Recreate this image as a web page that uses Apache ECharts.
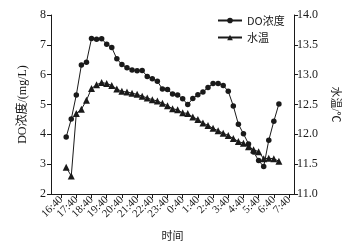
<!DOCTYPE html>
<html><head><meta charset="utf-8">
<script src="https://cdn.jsdelivr.net/npm/echarts@6/dist/echarts.min.js"></script>
<style>html,body{margin:0;padding:0;background:#fff}#c{width:348px;height:246px}</style>
</head><body><div id="c"></div>
<script>
const categories = ['16:00','16:20','16:40','17:00','17:20','17:40','18:00','18:20','18:40','19:00','19:20','19:40','20:00','20:20','20:40','21:00','21:20','21:40','22:00','22:20','22:40','23:00','23:20','23:40','0:00','0:20','0:40','1:00','1:20','1:40','2:00','2:20','2:40','3:00','3:20','3:40','4:00','4:20','4:40','5:00','5:20','5:40','6:00','6:20','6:40','7:00','7:20','7:40','8:00'];
const sampleTimes = ['17:00','17:20','17:40','18:00','18:20','18:40','19:00','19:20','19:40','20:00','20:20','20:40','21:00','21:20','21:40','22:00','22:20','22:40','23:00','23:20','23:40','0:00','0:20','0:40','1:00','1:20','1:40','2:00','2:20','2:40','3:00','3:20','3:40','4:00','4:20','4:40','5:00','5:20','5:40','6:00','6:20','6:40','7:00'];
const doValues = [3.91,4.51,5.32,6.32,6.42,7.21,7.19,7.20,7.02,6.91,6.53,6.34,6.23,6.16,6.13,6.14,5.94,5.86,5.78,5.52,5.50,5.35,5.32,5.19,5.00,5.20,5.33,5.42,5.57,5.70,5.70,5.64,5.44,4.95,4.34,4.02,3.68,3.41,3.12,2.92,3.80,4.44,5.02];
const tempValues = [11.45,11.30,12.35,12.42,12.57,12.77,12.83,12.87,12.85,12.82,12.76,12.72,12.71,12.69,12.67,12.64,12.61,12.58,12.56,12.52,12.48,12.43,12.41,12.36,12.35,12.29,12.25,12.19,12.15,12.10,12.06,12.02,11.98,11.93,11.88,11.85,11.79,11.74,11.71,11.59,11.60,11.59,11.55];
const tickLabels = ['16:40','17:40','18:40','19:40','20:40','21:40','22:40','23:40','0:40','1:40','2:40','3:40','4:40','5:40','6:40','7:40'];

const serif = "'Liberation Serif','Times New Roman','Noto Sans CJK SC',serif";
const cjk = "'Noto Sans CJK SC',sans-serif";
const ink = '#1a1a1a';
const chart = echarts.init(document.getElementById('c'));
const showTick = (i, v) => tickLabels.indexOf(categories[i]) >= 0;
chart.setOption({
  animation: false,
  backgroundColor: '#fff',
  grid: {left: 51, right: 52, top: 15, bottom: 51, containLabel: false},
  legend: {
    orient: 'vertical', left: 212, top: 10, itemGap: 6, itemWidth: 24, itemHeight: 7,
    textStyle: {fontFamily: cjk, fontSize: 11, color: ink},
    data: ['DO浓度', '水温']
  },
  xAxis: {
    type: 'category', data: categories, boundaryGap: false,
    name: '时间', nameLocation: 'middle', nameGap: 36,
    nameTextStyle: {fontFamily: cjk, fontSize: 11, color: ink},
    axisLine: {lineStyle: {color: ink, width: 1}},
    axisTick: {interval: showTick, inside: false, length: 4, lineStyle: {color: ink}},
    axisLabel: {interval: 0, rotate: 45, fontFamily: serif, fontSize: 11, color: ink, margin: 4,
      formatter: v => (tickLabels.indexOf(v) >= 0 ? v : ''), hideOverlap: false},
    splitLine: {show: false}
  },
  yAxis: [{
    type: 'value', min: 2, max: 8, interval: 1,
    name: 'DO浓度/(mg/L)', nameLocation: 'middle', nameGap: 20,
    nameTextStyle: {fontFamily: serif, fontSize: 12, color: ink},
    axisLine: {show: true, lineStyle: {color: ink, width: 1}},
    axisTick: {show: true, length: 4, lineStyle: {color: ink}},
    axisLabel: {fontFamily: serif, fontSize: 12, color: ink, margin: 5},
    splitLine: {show: false}
  }, {
    type: 'value', min: 11, max: 14, interval: 0.5, position: 'right',
    name: '水温/℃', nameLocation: 'middle', nameGap: 29, nameRotate: -90,
    nameTextStyle: {fontFamily: serif, fontSize: 11, color: ink},
    axisLine: {show: true, lineStyle: {color: ink, width: 1}},
    axisTick: {show: true, length: 4, lineStyle: {color: ink}},
    axisLabel: {fontFamily: serif, fontSize: 12, color: ink, margin: 3, formatter: v => v.toFixed(1)},
    splitLine: {show: false}
  }],
  series: [{
    name: 'DO浓度', type: 'line', yAxisIndex: 0,
    data: sampleTimes.map((t, i) => [t, doValues[i]]),
    symbol: 'circle', symbolSize: 5.5, showAllSymbol: true,
    lineStyle: {color: ink, width: 1}, itemStyle: {color: ink}
  }, {
    name: '水温', type: 'line', yAxisIndex: 1,
    data: sampleTimes.map((t, i) => [t, tempValues[i]]),
    symbol: 'triangle', symbolSize: 7, showAllSymbol: true,
    lineStyle: {color: ink, width: 1}, itemStyle: {color: ink}
  }]
});
</script></body></html>
